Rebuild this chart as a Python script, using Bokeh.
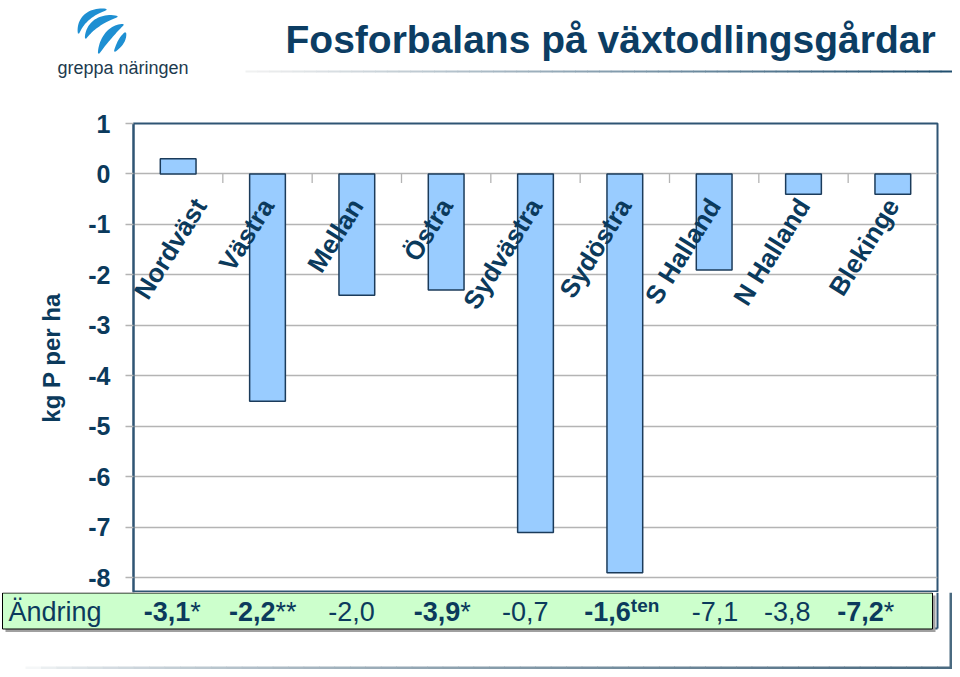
import math
from bokeh.plotting import figure
from bokeh.layouts import column
from bokeh.models import ColumnDataSource, Range1d, FixedTicker
from bokeh.transform import dodge
from bokeh.core.properties import value
from bokeh.embed import file_html
from bokeh.resources import INLINE

# ---------------- data ----------------
regions = ["Nordväst", "Västra", "Mellan", "Östra", "Sydvästra",
           "Sydöstra", "S Halland", "N Halland", "Blekinge"]
balance = [0.3, -4.5, -2.4, -2.3, -7.1, -7.9, -1.9, -0.4, -0.4]
change_num = ["-3,1", "-2,2", "-2,0", "-3,9", "-0,7", "-1,6", "-7,1", "-3,8", "-7,2"]
change_mark = ["*", "**", "", "*", "", "ten", "", "", "*"]
change_bold = [True, True, False, True, False, True, False, False, True]
y_ticks = [1, 0, -1, -2, -3, -4, -5, -6, -7, -8]
title_text = "Fosforbalans på växtodlingsgårdar"
y_label = "kg P per ha"
row_label = "Ändring"
logo_text = "greppa näringen"

# ---------------- layout / style ----------------
W = 952
HDR_H = 110
MAIN_H = 482
FTR_H = 77
FRAME_L, FRAME_R = 133, 937
Y_MIN = -8.29
NAVY = "#0b3a5c"
TITLE_C = "#0c3d63"
FRAME_C = "#2f5574"
GRID_C = "#b4b4b4"
FONT = "Liberation Sans"
row_nudge_px = [12, 8, 18, 14, 13, 6, 24, 7, -9]
label_nudge_px = [22, 0, 0, 0, 0, 0, 0, 0, 0]


def plain(fig):
    fig.axis.visible = False
    fig.grid.visible = False
    fig.outline_line_color = None
    fig.background_fill_color = "white"
    fig.border_fill_color = "white"


# ---------------- main chart ----------------
p = figure(width=W, height=MAIN_H, x_range=regions, y_range=Range1d(Y_MIN, 1),
           output_backend="svg", toolbar_location=None, frame_align=False,
           min_border_left=FRAME_L, min_border_right=W - FRAME_R,
           min_border_top=13, min_border_bottom=0)
p.background_fill_color = "white"
p.border_fill_color = "white"
p.outline_line_color = FRAME_C
p.outline_line_width = 2
p.xgrid.visible = False
p.xaxis.visible = False

ya = p.yaxis[0]
ya.ticker = FixedTicker(ticks=y_ticks)
ya.major_label_overrides = {t: str(t) for t in y_ticks}
ya.axis_line_color = FRAME_C
ya.axis_line_width = 2
ya.major_tick_line_color = GRID_C
ya.major_tick_line_width = 1.3
ya.major_tick_out = 8
ya.major_tick_in = 0
ya.minor_tick_line_color = None
ya.major_label_standoff = 15
ya.major_label_text_font = FONT
ya.major_label_text_font_style = "bold"
ya.major_label_text_font_size = "25px"
ya.major_label_text_color = NAVY
ya.axis_label = y_label
ya.axis_label_text_font = FONT
ya.axis_label_text_font_style = "bold"
ya.axis_label_text_font_size = "24px"
ya.axis_label_text_color = NAVY
ya.axis_label_standoff = 20

p.ygrid.ticker = FixedTicker(ticks=y_ticks)
p.ygrid.grid_line_color = GRID_C
p.ygrid.grid_line_width = 1.3

src = ColumnDataSource(dict(region=regions, bal=balance, nudge=label_nudge_px))
p.vbar(x="region", top="bal", bottom=0, width=0.4, source=src,
       fill_color="#99ccff", line_color="#1b3b5a", line_width=1.5)

# category tick marks on the zero line (between categories)
tsrc = ColumnDataSource(dict(region=regions[:-1]))
p.segment(x0=dodge("region", 0.5, range=p.x_range), y0=0,
          x1=dodge("region", 0.5, range=p.x_range), y1=-0.18,
          source=tsrc, line_color=GRID_C, line_width=1.3)

# rotated category labels hanging below the zero line
p.text(x="region", y=-0.535, text="region", x_offset="nudge", source=src,
       angle=58, angle_units="deg", text_align="right", text_baseline="middle",
       text_font=value(FONT), text_font_style="bold", text_font_size="26px",
       text_color=NAVY)

# ---------------- header ----------------
hdr = figure(width=W, height=HDR_H, x_range=Range1d(0, W), y_range=Range1d(HDR_H, 0),
             output_backend="svg", toolbar_location=None, min_border=0, frame_align=False)
plain(hdr)


def lerp_color(c0, c1, t):
    a = [int(c0[i:i + 2], 16) for i in (1, 3, 5)]
    b = [int(c1[i:i + 2], 16) for i in (1, 3, 5)]
    return "#%02x%02x%02x" % tuple(round(a[k] + (b[k] - a[k]) * t) for k in range(3))


def hgrad(fig, x0, x1, y0, y1, c0, c1, n=50, gamma=1.0):
    step = (x1 - x0) / n
    lefts = [x0 + i * step for i in range(n)]
    rights = [l + step + 0.6 for l in lefts]
    cols = [lerp_color(c0, c1, ((i + 0.5) / n) ** gamma) for i in range(n)]
    fig.quad(left=lefts, right=rights, top=y0, bottom=y1, fill_color=cols, line_color=None)


hgrad(hdr, 245, W, 70, 72, "#f2f2f2", "#1f4e6e", n=60, gamma=1.0)

hdr.text(x=[285], y=[39], text=[title_text], text_baseline="middle", text_align="left",
         text_font=value(FONT), text_font_style="bold", text_font_size="39px",
         text_color=TITLE_C)
hdr.text(x=[57], y=[67], text=[logo_text], text_baseline="middle", text_align="left",
         text_font=value(FONT), text_font_size="18px", text_color="#1c3a4e")


def stripe(p0, c, p2, w, n=24):
    pts = []
    for k in range(n + 1):
        t = k / n
        x = (1 - t) ** 2 * p0[0] + 2 * (1 - t) * t * c[0] + t ** 2 * p2[0]
        y = (1 - t) ** 2 * p0[1] + 2 * (1 - t) * t * c[1] + t ** 2 * p2[1]
        dx = 2 * (1 - t) * (c[0] - p0[0]) + 2 * t * (p2[0] - c[0])
        dy = 2 * (1 - t) * (c[1] - p0[1]) + 2 * t * (p2[1] - c[1])
        L = math.hypot(dx, dy) or 1
        nx, ny = -dy / L, dx / L
        hw = 0.6 + w * 0.5 * math.sin(math.pi * t) ** 0.8
        pts.append((x, y, nx, ny, hw))
    xs = [x + nx * hw for x, y, nx, ny, hw in pts] + [x - nx * hw for x, y, nx, ny, hw in reversed(pts)]
    ys = [y + ny * hw for x, y, nx, ny, hw in pts] + [y - ny * hw for x, y, nx, ny, hw in reversed(pts)]
    return xs, ys


logo_shapes = [stripe((78, 33), (81, 12), (106, 9), 6),
               stripe((85, 38), (92, 18), (117, 16), 7),
               stripe((98, 53), (106, 31), (123, 24), 7),
               stripe((114, 51), (122, 40), (125, 32), 5)]
hdr.patches(xs=[s[0] for s in logo_shapes], ys=[s[1] for s in logo_shapes],
            fill_color="#1e8fd2", line_color=None)

# ---------------- footer (change row) ----------------
ppu = (FRAME_R - FRAME_L) / len(regions)


def u(px):
    return (px - FRAME_L) / ppu


ftr = figure(width=W, height=FTR_H, x_range=Range1d(u(0), u(W)), y_range=Range1d(FTR_H, 0),
             output_backend="svg", toolbar_location=None, min_border=0, frame_align=False)
plain(ftr)

# chart frame continues behind the box
ftr.segment(x0=[u(FRAME_L), u(FRAME_R)], y0=[0, 0], x1=[u(FRAME_L), u(FRAME_R)], y1=[36, 36],
            line_color=FRAME_C, line_width=2)
ftr.segment(x0=[u(FRAME_L)], y0=[36], x1=[u(FRAME_R)], y1=[36], line_color=FRAME_C, line_width=2)
# box shadow + box
ftr.quad(left=[u(5)], right=[u(935)], top=[3], bottom=[39.5], fill_color="#a0a0a0", line_color=None)
ftr.quad(left=[u(2)], right=[u(932)], top=[0.5], bottom=[36.5], fill_color="#ccffcc",
         line_color="black", line_width=1)
ftr.text(x=[u(8)], y=[19], text=[row_label], text_baseline="middle", text_align="left",
         text_font=value(FONT), text_font_size="27px", text_color=NAVY)

centers = [i + 0.5 for i in range(len(regions))]
for bold in (True, False):
    idx = [i for i in range(len(regions)) if change_bold[i] == bold]
    s = ColumnDataSource(dict(x=[centers[i] for i in idx],
                              txt=[change_num[i] for i in idx],
                              dx=[row_nudge_px[i] for i in idx]))
    ftr.text(x="x", y=19, text="txt", x_offset="dx", source=s,
             text_align="right", text_baseline="middle", text_font=value(FONT),
             text_font_size="27px", text_font_style="bold" if bold else "normal",
             text_color=NAVY)

for mark, size, style, yy in (("*", "27px", "normal", 19), ("**", "27px", "normal", 19),
                              ("ten", "19px", "bold", 13)):
    idx = [i for i in range(len(regions)) if change_mark[i] == mark]
    if not idx:
        continue
    s = ColumnDataSource(dict(x=[centers[i] for i in idx],
                              txt=[change_mark[i] for i in idx],
                              dx=[row_nudge_px[i] for i in idx]))
    ftr.text(x="x", y=yy, text="txt", x_offset="dx", source=s,
             text_align="left", text_baseline="middle", text_font=value(FONT),
             text_font_size=size, text_font_style=style, text_color=NAVY)

# outer picture frame (bottom + right edge)
step_n = 60
x0b, x1b = 25, W
stp = (x1b - x0b) / step_n
lefts = [u(x0b + i * stp) for i in range(step_n)]
rights = [u(x0b + (i + 1) * stp + 0.6) for i in range(step_n)]
cols = [lerp_color("#ffffff", "#4a6a80", ((i + 0.5) / step_n) ** 0.6) for i in range(step_n)]
ftr.quad(left=lefts, right=rights, top=74, bottom=77, fill_color=cols, line_color=None)
ftr.quad(left=[u(W - 3)], right=[u(W)], top=[0], bottom=[77], fill_color="#4a6a80", line_color=None)

layout = column(hdr, p, ftr, spacing=0)
open("out.html", "w").write(file_html(layout, INLINE))
